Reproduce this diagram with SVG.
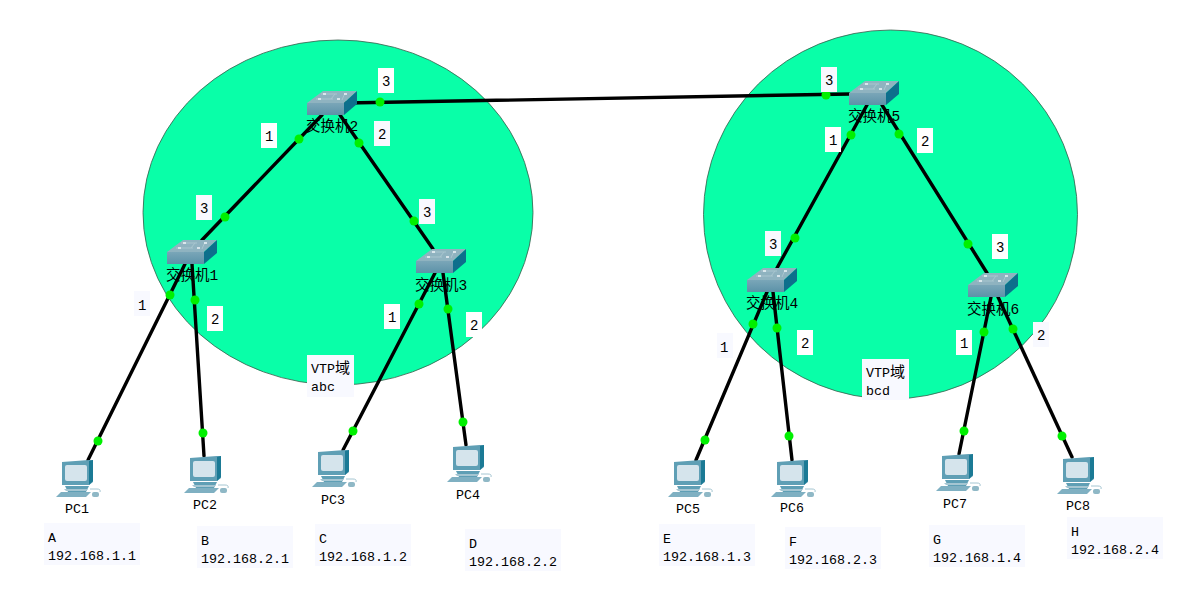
<svg xmlns="http://www.w3.org/2000/svg" width="1198" height="589" viewBox="0 0 1198 589">
<style>
text{font-family:"Liberation Mono","Noto Sans CJK SC",monospace;font-size:13.33px;fill:#000}
.cn{font-size:14.5px}
.n{font-size:14px}
.y{font-size:15px}
.bg{fill:#f8f9ff}
.w{fill:#fff}
.dom{fill:#09ffa8;stroke:#3a5a4a;stroke-width:.8}
.l{stroke:#000;stroke-width:3.4;fill:none;stroke-linecap:round}
.d{fill:#00f000}
</style>
<defs>
<linearGradient id="sf" x1="0" y1="0" x2="0" y2="1"><stop offset="0" stop-color="#7aa6b8"/><stop offset="1" stop-color="#5c92a8"/></linearGradient>
<g id="sw">
<polygon points="0,12 16,0 50,0 37,12" fill="#8fb3c0"/>
<polygon points="0,12 37,12 37,24 0,24" fill="url(#sf)"/>
<polygon points="37,12 50,0 50,13 37,24" fill="#0d6f8c"/>
<path d="M14,3H30M9,8H26M28,3 24,8M38,2 35,9" stroke="#a9c6cf" stroke-width="1" fill="none"/>
<path d="M16,3h3M37,3h3M11,8h3M30,8h3" stroke="#eef5f7" stroke-width="1.6"/>
</g>
<g id="pc">
<polygon points="6,2 33,0 37,0 37,22 33,25 6,25" fill="#5f9fb5"/>
<polygon points="33,1 37,0 37,21 33,25" fill="#1b7a95"/>
<rect x="9" y="5" width="22" height="16" rx="2" fill="#d5e4ec"/>
<polygon points="9,26 33,26 30,32 12,32" fill="#5f9fb5"/>
<polygon points="8,29 32,29 30,31 10,31" fill="#a5c6d2"/>
<polygon points="0,37 5,32 35,32 30,37" fill="#7fb0c2"/>
<polygon points="35,32 37,30 30,37" fill="#1b7a95"/>
<path d="M34,29h7q4,0 3,3" stroke="#a5c6d2" stroke-width="1" fill="none"/>
<rect x="36" y="32" width="7" height="5" rx="2" fill="#8fb8c6"/>
</g>
</defs>
<g id="domains">
<ellipse class="dom" cx="338" cy="212.500" rx="195" ry="172.500"/>
<ellipse class="dom" cx="890.500" cy="214.500" rx="187" ry="184.500"/>
</g>
<g id="connectors">
<path class="l" d="M346,103 850,94"/>
<path class="l" d="M322,115 202,240"/>
<path class="l" d="M340,115 433,249"/>
<path class="l" d="M867,105 777,268"/>
<path class="l" d="M882,105 987,273"/>
<path class="l" d="M185,264 88,460"/>
<path class="l" d="M192,264 204,456"/>
<path class="l" d="M435,273 343,450"/>
<path class="l" d="M443,273 466,445"/>
<path class="l" d="M767,292 696,460"/>
<path class="l" d="M773,292 792,460"/>
<path class="l" d="M991,297 959,454"/>
<path class="l" d="M998,297 1072,457"/>
</g>
<g id="link-lights">
<circle class="d" cx="380" cy="102" r="4.500"/><circle class="d" cx="826" cy="95" r="4.500"/>
<circle class="d" cx="299" cy="139" r="4.500"/><circle class="d" cx="225" cy="217" r="4.500"/>
<circle class="d" cx="359" cy="143" r="4.500"/><circle class="d" cx="414" cy="221" r="4.500"/>
<circle class="d" cx="170" cy="295" r="4.500"/><circle class="d" cx="98" cy="441" r="4.500"/>
<circle class="d" cx="195" cy="300" r="4.500"/><circle class="d" cx="203" cy="433" r="4.500"/>
<circle class="d" cx="419" cy="304" r="4.500"/><circle class="d" cx="353" cy="431" r="4.500"/>
<circle class="d" cx="448" cy="309" r="4.500"/><circle class="d" cx="463" cy="422" r="4.500"/>
<circle class="d" cx="851" cy="135" r="4.500"/><circle class="d" cx="795" cy="238" r="4.500"/>
<circle class="d" cx="899" cy="134" r="4.500"/><circle class="d" cx="968" cy="244" r="4.500"/>
<circle class="d" cx="753" cy="324" r="4.500"/><circle class="d" cx="705" cy="440" r="4.500"/>
<circle class="d" cx="777" cy="328" r="4.500"/><circle class="d" cx="789" cy="436" r="4.500"/>
<circle class="d" cx="984" cy="332" r="4.500"/><circle class="d" cx="964" cy="431" r="4.500"/>
<circle class="d" cx="1013" cy="329" r="4.500"/><circle class="d" cx="1062" cy="436" r="4.500"/>
</g>
<g id="sw1"><use href="#sw" x="167" y="240"/><text class="cn" x="166" y="280">交换机1</text></g>
<g id="sw2"><use href="#sw" x="307" y="91"/><text class="cn" x="306" y="131">交换机2</text></g>
<g id="sw3"><use href="#sw" x="416" y="249"/><text class="cn" x="415" y="290">交换机3</text></g>
<g id="sw4"><use href="#sw" x="747" y="268"/><text class="cn" x="746" y="308">交换机4</text></g>
<g id="sw5"><use href="#sw" x="849" y="81"/><text class="cn" x="848" y="121">交换机5</text></g>
<g id="sw6"><use href="#sw" x="968" y="273"/><text class="cn" x="967" y="314">交换机6</text></g>
<g id="pc1"><use href="#pc" x="56" y="460"/><text x="65" y="513">PC1</text></g>
<g id="pc2"><use href="#pc" x="184" y="456"/><text x="193" y="509">PC2</text></g>
<g id="pc3"><use href="#pc" x="312" y="450"/><text x="321" y="504">PC3</text></g>
<g id="pc4"><use href="#pc" x="447" y="445"/><text x="456" y="499">PC4</text></g>
<g id="pc5"><use href="#pc" x="668" y="460"/><text x="676" y="513">PC5</text></g>
<g id="pc6"><use href="#pc" x="771" y="460"/><text x="780" y="512">PC6</text></g>
<g id="pc7"><use href="#pc" x="936" y="454"/><text x="943" y="508">PC7</text></g>
<g id="pc8"><use href="#pc" x="1057" y="457"/><text x="1066" y="510">PC8</text></g>
<g id="labels">
<g><rect class="w" x="261" y="123" width="16" height="25"/><text class="n" x="265" y="141">1</text></g>
<g><rect class="w" x="378" y="68" width="16" height="25"/><text class="n" x="382" y="86">3</text></g>
<g><rect class="bg" x="374" y="121" width="16" height="25"/><text class="n" x="378" y="139">2</text></g>
<g><rect class="bg" x="196" y="195" width="16" height="25"/><text class="n" x="200" y="213">3</text></g>
<g><rect class="bg" x="419" y="199" width="16" height="25"/><text class="n" x="423" y="217">3</text></g>
<g><rect class="bg" x="134" y="291" width="16" height="25"/><text class="n" x="138" y="310">1</text></g>
<g><rect class="w" x="207" y="306" width="16" height="25"/><text class="n" x="211" y="324">2</text></g>
<g><rect class="w" x="384" y="304" width="16" height="25"/><text class="n" x="388" y="322">1</text></g>
<g><rect class="w" x="466" y="312" width="16" height="25"/><text class="n" x="470" y="330">2</text></g>
<g><rect class="bg" x="821" y="67" width="16" height="25"/><text class="n" x="825" y="85">3</text></g>
<g><rect class="w" x="825" y="127" width="16" height="25"/><text class="n" x="829" y="145">1</text></g>
<g><rect class="w" x="917" y="128" width="16" height="25"/><text class="n" x="921" y="146">2</text></g>
<g><rect class="bg" x="765" y="231" width="16" height="25"/><text class="n" x="769" y="249">3</text></g>
<g><rect class="w" x="992" y="234" width="16" height="25"/><text class="n" x="996" y="252">3</text></g>
<g><rect class="bg" x="717" y="333" width="16" height="25"/><text class="n" x="720" y="352">1</text></g>
<g><rect class="w" x="797" y="330" width="16" height="25"/><text class="n" x="801" y="348">2</text></g>
<g><rect class="w" x="956" y="330" width="16" height="25"/><text class="n" x="960" y="348">1</text></g>
<g><rect class="bg" x="1033" y="322" width="16" height="25"/><text class="n" x="1037" y="340">2</text></g>
<g><rect class="bg" x="307" y="355" width="47" height="42"/><text x="311" y="373">VTP<tspan class="y">域</tspan></text><text x="311" y="391">abc</text></g>
<g><rect class="bg" x="862" y="359" width="47" height="41"/><text x="866" y="377">VTP<tspan class="y">域</tspan></text><text x="866" y="395">bcd</text></g>
<g><rect class="bg" x="44" y="523" width="96" height="42"/><text x="48" y="542">A</text><text x="48" y="560">192.168.1.1</text></g>
<g><rect class="bg" x="197" y="526" width="96" height="42"/><text x="201" y="545">B</text><text x="201" y="563">192.168.2.1</text></g>
<g><rect class="bg" x="315" y="524" width="96" height="42"/><text x="319" y="543">C</text><text x="319" y="561">192.168.1.2</text></g>
<g><rect class="bg" x="465" y="529" width="96" height="42"/><text x="469" y="548">D</text><text x="469" y="566">192.168.2.2</text></g>
<g><rect class="bg" x="659" y="524" width="96" height="42"/><text x="663" y="543">E</text><text x="663" y="561">192.168.1.3</text></g>
<g><rect class="bg" x="785" y="527" width="96" height="42"/><text x="789" y="546">F</text><text x="789" y="564">192.168.2.3</text></g>
<g><rect class="bg" x="929" y="525" width="96" height="42"/><text x="933" y="544">G</text><text x="933" y="562">192.168.1.4</text></g>
<g><rect class="bg" x="1067" y="517" width="96" height="42"/><text x="1071" y="536">H</text><text x="1071" y="554">192.168.2.4</text></g>
</g>
</svg>
